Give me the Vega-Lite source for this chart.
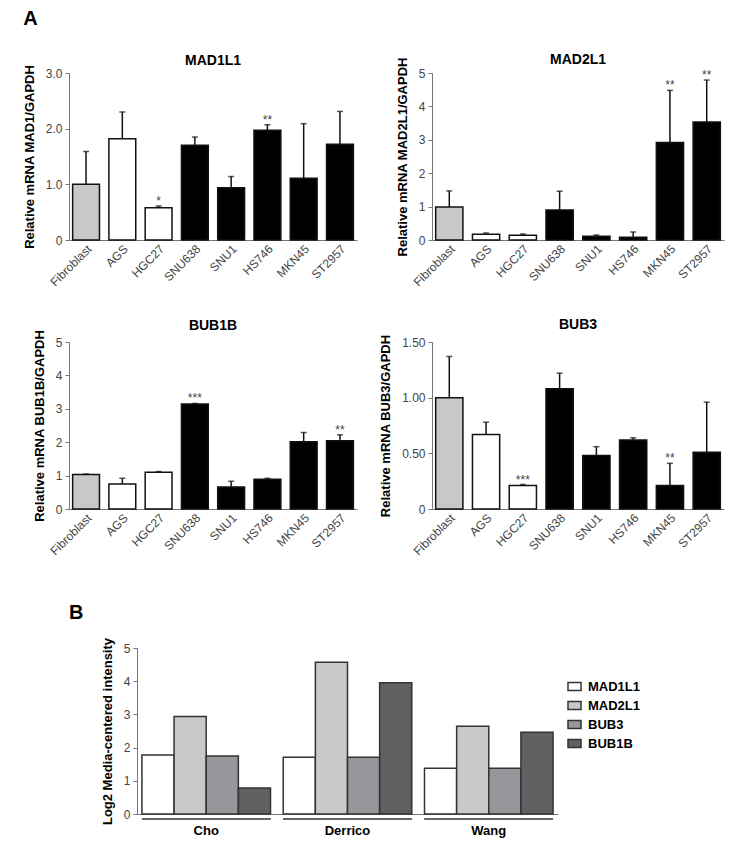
{
  "$schema": "https://vega.github.io/schema/vega-lite/v6.json",
  "background": "#ffffff",
  "padding": {"left": 23, "top": 8, "right": 5, "bottom": 5},
  "resolve": {"scale": {"fill": "independent"}},
  "datasets": {
    "a": [
      {"gene": "MAD1L1", "cell": "Fibroblast", "value": 1.0, "upper": 1.59, "sig": "", "type": "fib"},
      {"gene": "MAD1L1", "cell": "AGS", "value": 1.82, "upper": 2.30, "sig": "", "type": "ctrl"},
      {"gene": "MAD1L1", "cell": "HGC27", "value": 0.58, "upper": 0.61, "sig": "*", "type": "ctrl"},
      {"gene": "MAD1L1", "cell": "SNU638", "value": 1.70, "upper": 1.85, "sig": "", "type": "cancer"},
      {"gene": "MAD1L1", "cell": "SNU1", "value": 0.94, "upper": 1.14, "sig": "", "type": "cancer"},
      {"gene": "MAD1L1", "cell": "HS746", "value": 1.97, "upper": 2.07, "sig": "**", "type": "cancer"},
      {"gene": "MAD1L1", "cell": "MKN45", "value": 1.11, "upper": 2.09, "sig": "", "type": "cancer"},
      {"gene": "MAD1L1", "cell": "ST2957", "value": 1.72, "upper": 2.31, "sig": "", "type": "cancer"},
      {"gene": "MAD2L1", "cell": "Fibroblast", "value": 0.99, "upper": 1.47, "sig": "", "type": "fib"},
      {"gene": "MAD2L1", "cell": "AGS", "value": 0.17, "upper": 0.21, "sig": "", "type": "ctrl"},
      {"gene": "MAD2L1", "cell": "HGC27", "value": 0.14, "upper": 0.18, "sig": "", "type": "ctrl"},
      {"gene": "MAD2L1", "cell": "SNU638", "value": 0.90, "upper": 1.46, "sig": "", "type": "cancer"},
      {"gene": "MAD2L1", "cell": "SNU1", "value": 0.11, "upper": 0.15, "sig": "", "type": "cancer"},
      {"gene": "MAD2L1", "cell": "HS746", "value": 0.08, "upper": 0.24, "sig": "", "type": "cancer"},
      {"gene": "MAD2L1", "cell": "MKN45", "value": 2.92, "upper": 4.48, "sig": "**", "type": "cancer"},
      {"gene": "MAD2L1", "cell": "ST2957", "value": 3.53, "upper": 4.79, "sig": "**", "type": "cancer"},
      {"gene": "BUB1B", "cell": "Fibroblast", "value": 1.03, "upper": 1.05, "sig": "", "type": "fib"},
      {"gene": "BUB1B", "cell": "AGS", "value": 0.75, "upper": 0.92, "sig": "", "type": "ctrl"},
      {"gene": "BUB1B", "cell": "HGC27", "value": 1.10, "upper": 1.12, "sig": "", "type": "ctrl"},
      {"gene": "BUB1B", "cell": "SNU638", "value": 3.14, "upper": 3.16, "sig": "***", "type": "cancer"},
      {"gene": "BUB1B", "cell": "SNU1", "value": 0.66, "upper": 0.83, "sig": "", "type": "cancer"},
      {"gene": "BUB1B", "cell": "HS746", "value": 0.89, "upper": 0.92, "sig": "", "type": "cancer"},
      {"gene": "BUB1B", "cell": "MKN45", "value": 2.01, "upper": 2.29, "sig": "", "type": "cancer"},
      {"gene": "BUB1B", "cell": "ST2957", "value": 2.04, "upper": 2.22, "sig": "**", "type": "cancer"},
      {"gene": "BUB3", "cell": "Fibroblast", "value": 1.00, "upper": 1.37, "sig": "", "type": "fib"},
      {"gene": "BUB3", "cell": "AGS", "value": 0.67, "upper": 0.78, "sig": "", "type": "ctrl"},
      {"gene": "BUB3", "cell": "HGC27", "value": 0.21, "upper": 0.22, "sig": "***", "type": "ctrl"},
      {"gene": "BUB3", "cell": "SNU638", "value": 1.08, "upper": 1.22, "sig": "", "type": "cancer"},
      {"gene": "BUB3", "cell": "SNU1", "value": 0.48, "upper": 0.56, "sig": "", "type": "cancer"},
      {"gene": "BUB3", "cell": "HS746", "value": 0.62, "upper": 0.64, "sig": "", "type": "cancer"},
      {"gene": "BUB3", "cell": "MKN45", "value": 0.21, "upper": 0.41, "sig": "**", "type": "cancer"},
      {"gene": "BUB3", "cell": "ST2957", "value": 0.51, "upper": 0.96, "sig": "", "type": "cancer"}
    ],
    "b": [
      {"study": "Cho", "gene": "MAD1L1", "value": 1.78},
      {"study": "Cho", "gene": "MAD2L1", "value": 2.94},
      {"study": "Cho", "gene": "BUB3", "value": 1.75},
      {"study": "Cho", "gene": "BUB1B", "value": 0.78},
      {"study": "Derrico", "gene": "MAD1L1", "value": 1.71},
      {"study": "Derrico", "gene": "MAD2L1", "value": 4.57},
      {"study": "Derrico", "gene": "BUB3", "value": 1.71},
      {"study": "Derrico", "gene": "BUB1B", "value": 3.95},
      {"study": "Wang", "gene": "MAD1L1", "value": 1.38},
      {"study": "Wang", "gene": "MAD2L1", "value": 2.64},
      {"study": "Wang", "gene": "BUB3", "value": 1.38},
      {"study": "Wang", "gene": "BUB1B", "value": 2.46}
    ]
  },
  "spacing": 45,
  "vconcat": [
    {
      "title": {"text": "A", "anchor": "start", "fontSize": 20, "offset": 24},
      "columns": 2,
      "spacing": {"row": 29, "column": 22},
      "concat": [
        {
          "title": {"text": "MAD1L1", "offset": -4},
          "width": 288, "height": 167,
          "data": {"name": "a"},
          "transform": [{"filter": "datum.gene === 'MAD1L1'"}],
          "encoding": {
            "x": {"field": "cell", "type": "nominal", "sort": null, "title": null, "scale": {"paddingInner": 0.26, "paddingOuter": 0.1}},
            "y": {"field": "value", "type": "quantitative", "scale": {"domain": [0, 3]}, "title": "Relative mRNA MAD1/GAPDH", "axis": {"values": [0, 1, 2, 3], "labelExpr": "datum.value === 0 ? '0' : format(datum.value, '.1f')"}}
          },
          "layer": [
            {"mark": {"type": "rule", "stroke": "#111", "strokeWidth": 1.5}, "encoding": {"y2": {"field": "upper"}}},
            {"mark": {"type": "bar", "stroke": "#111", "strokeWidth": 1.5}, "encoding": {"fill": {"field": "type", "type": "nominal", "scale": {"domain": ["fib", "ctrl", "cancer"], "range": ["#c8c8c8", "#ffffff", "#000000"]}, "legend": null}}},
            {"mark": {"type": "tick", "orient": "horizontal", "size": 6, "thickness": 1.5, "color": "#111"}, "encoding": {"y": {"field": "upper", "type": "quantitative"}}},
            {"transform": [{"filter": "datum.sig !== ''"}], "mark": {"type": "text", "baseline": "middle", "dy": -5, "fontSize": 12, "color": "#444"}, "encoding": {"y": {"field": "upper", "type": "quantitative"}, "text": {"field": "sig"}}}
          ]
        },
        {
          "title": {"text": "MAD2L1", "offset": -10},
          "width": 292, "height": 167,
          "data": {"name": "a"},
          "transform": [{"filter": "datum.gene === 'MAD2L1'"}],
          "encoding": {
            "x": {"field": "cell", "type": "nominal", "sort": null, "title": null, "scale": {"paddingInner": 0.26, "paddingOuter": 0.1}},
            "y": {"field": "value", "type": "quantitative", "scale": {"domain": [0, 5]}, "title": "Relative mRNA MAD2L1/GAPDH", "axis": {"values": [0, 1, 2, 3, 4, 5], "tickCount": 6}}
          },
          "layer": [
            {"mark": {"type": "rule", "stroke": "#111", "strokeWidth": 1.5}, "encoding": {"y2": {"field": "upper"}}},
            {"mark": {"type": "bar", "stroke": "#111", "strokeWidth": 1.5}, "encoding": {"fill": {"field": "type", "type": "nominal", "scale": {"domain": ["fib", "ctrl", "cancer"], "range": ["#c8c8c8", "#ffffff", "#000000"]}, "legend": null}}},
            {"mark": {"type": "tick", "orient": "horizontal", "size": 6, "thickness": 1.5, "color": "#111"}, "encoding": {"y": {"field": "upper", "type": "quantitative"}}},
            {"transform": [{"filter": "datum.sig !== ''"}], "mark": {"type": "text", "baseline": "middle", "dy": -5, "fontSize": 12, "color": "#444"}, "encoding": {"y": {"field": "upper", "type": "quantitative"}, "text": {"field": "sig"}}}
          ]
        },
        {
          "title": {"text": "BUB1B", "offset": -4},
          "width": 288, "height": 167,
          "data": {"name": "a"},
          "transform": [{"filter": "datum.gene === 'BUB1B'"}],
          "encoding": {
            "x": {"field": "cell", "type": "nominal", "sort": null, "title": null, "scale": {"paddingInner": 0.26, "paddingOuter": 0.1}},
            "y": {"field": "value", "type": "quantitative", "scale": {"domain": [0, 5]}, "title": "Relative mRNA BUB1B/GAPDH", "axis": {"values": [0, 1, 2, 3, 4, 5], "tickCount": 6}}
          },
          "layer": [
            {"mark": {"type": "rule", "stroke": "#111", "strokeWidth": 1.5}, "encoding": {"y2": {"field": "upper"}}},
            {"mark": {"type": "bar", "stroke": "#111", "strokeWidth": 1.5}, "encoding": {"fill": {"field": "type", "type": "nominal", "scale": {"domain": ["fib", "ctrl", "cancer"], "range": ["#c8c8c8", "#ffffff", "#000000"]}, "legend": null}}},
            {"mark": {"type": "tick", "orient": "horizontal", "size": 6, "thickness": 1.5, "color": "#111"}, "encoding": {"y": {"field": "upper", "type": "quantitative"}}},
            {"transform": [{"filter": "datum.sig !== ''"}], "mark": {"type": "text", "baseline": "middle", "dy": -5, "fontSize": 12, "color": "#444"}, "encoding": {"y": {"field": "upper", "type": "quantitative"}, "text": {"field": "sig"}}}
          ]
        },
        {
          "title": {"text": "BUB3", "offset": 2},
          "width": 292, "height": 167,
          "data": {"name": "a"},
          "transform": [{"filter": "datum.gene === 'BUB3'"}],
          "encoding": {
            "x": {"field": "cell", "type": "nominal", "sort": null, "title": null, "scale": {"paddingInner": 0.26, "paddingOuter": 0.1}},
            "y": {"field": "value", "type": "quantitative", "scale": {"domain": [0, 1.5]}, "title": "Relative mRNA BUB3/GAPDH", "axis": {"values": [0, 0.5, 1, 1.5], "labelExpr": "datum.value === 0 ? '0' : format(datum.value, '.2f')"}}
          },
          "layer": [
            {"mark": {"type": "rule", "stroke": "#111", "strokeWidth": 1.5}, "encoding": {"y2": {"field": "upper"}}},
            {"mark": {"type": "bar", "stroke": "#111", "strokeWidth": 1.5}, "encoding": {"fill": {"field": "type", "type": "nominal", "scale": {"domain": ["fib", "ctrl", "cancer"], "range": ["#c8c8c8", "#ffffff", "#000000"]}, "legend": null}}},
            {"mark": {"type": "tick", "orient": "horizontal", "size": 6, "thickness": 1.5, "color": "#111"}, "encoding": {"y": {"field": "upper", "type": "quantitative"}}},
            {"transform": [{"filter": "datum.sig !== ''"}], "mark": {"type": "text", "baseline": "middle", "dy": -5, "fontSize": 12, "color": "#444"}, "encoding": {"y": {"field": "upper", "type": "quantitative"}, "text": {"field": "sig"}}}
          ]
        }
      ]
    },
    {
      "title": {"text": "B", "anchor": "start", "fontSize": 20, "offset": 14},
      "spacing": 0,
      "hconcat": [
        {
          "width": 32, "height": 166,
          "data": {"values": [{"t": ""}]},
          "mark": {"type": "text"},
          "encoding": {"text": {"field": "t"}}
        },
        {
          "width": 421, "height": 166,
          "data": {"name": "b"},
          "encoding": {
            "x": {"field": "study", "type": "nominal", "sort": null, "title": null, "scale": {"paddingInner": 0.09, "paddingOuter": 0.035}, "axis": {"labelAngle": 0, "labelFontSize": 13, "labelFontWeight": "bold", "labelColor": "#000", "labelPadding": 10}}
          },
          "layer": [
            {
              "mark": {"type": "bar", "stroke": "#333", "strokeWidth": 1.5},
              "encoding": {
                "xOffset": {"field": "gene", "type": "nominal", "sort": ["MAD1L1", "MAD2L1", "BUB3", "BUB1B"]},
                "y": {"field": "value", "type": "quantitative", "scale": {"domain": [0, 5]}, "title": "Log2 Media-centered intensity", "axis": {"values": [0, 1, 2, 3, 4, 5], "tickCount": 6}},
                "fill": {"field": "gene", "type": "nominal", "scale": {"domain": ["MAD1L1", "MAD2L1", "BUB3", "BUB1B"], "range": ["#ffffff", "#c8c9cb", "#96979a", "#5f6062"]},
                  "legend": {"title": null, "orient": "none", "legendX": 498, "legendY": 31, "symbolType": "M-1,-0.6H1V0.6H-1Z", "symbolSize": 170, "symbolStrokeColor": "#333", "symbolStrokeWidth": 1.5, "labelFontSize": 13, "labelFontWeight": "bold", "labelColor": "#000", "rowPadding": 4, "labelOffset": 6}}
              }
            },
            {
              "mark": {"type": "rule", "stroke": "#666", "strokeWidth": 1.5, "yOffset": 5},
              "encoding": {
                "x": {"field": "study", "type": "nominal", "bandPosition": 0},
                "x2": {"field": "study", "bandPosition": 1},
                "y": {"datum": 0}
              }
            }
          ]
        }
      ]
    }
  ],
  "config": {
    "font": "Liberation Sans",
    "view": {"stroke": null},
    "title": {"fontSize": 14, "fontWeight": "bold", "color": "#000", "offset": 4},
    "axis": {"grid": false, "domainColor": "#777", "tickColor": "#777", "labelColor": "#444", "labelFontSize": 12, "titleFontSize": 13, "titleFontWeight": "bold", "titleColor": "#000"},
    "axisX": {"ticks": false, "labelAngle": -45, "labelPadding": 3},
    "axisY": {"tickSize": 4, "labelPadding": 3, "titlePadding": 9}
  }
}
